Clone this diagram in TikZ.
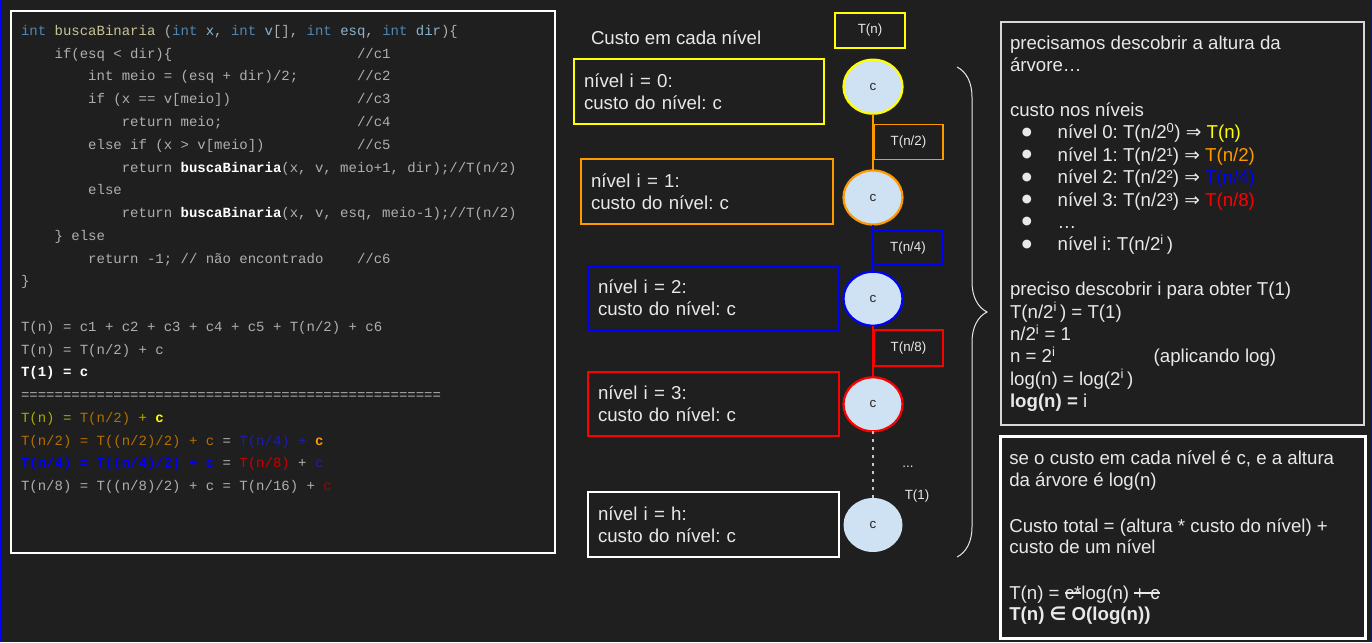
\documentclass[tikz,border=0pt]{standalone}
\usepackage{fontspec}
\setmainfont{Liberation Sans}
\setmonofont{Liberation Mono}
\newfontfamily\dejavu{DejaVu Sans}
\usetikzlibrary{shapes.geometric,decorations.pathreplacing}
\definecolor{bg}{RGB}{31,31,31}
\definecolor{txt}{RGB}{232,232,232}
\definecolor{codeg}{RGB}{175,175,175}
\definecolor{kw}{RGB}{80,135,180}
\definecolor{fn}{RGB}{200,196,150}
\definecolor{par}{RGB}{140,180,205}
\definecolor{yel}{RGB}{255,255,0}
\definecolor{org}{RGB}{255,153,0}
\definecolor{blu}{RGB}{0,0,255}
\definecolor{rd}{RGB}{255,0,0}
\definecolor{cfill}{RGB}{207,226,243}
\definecolor{cOlive}{RGB}{170,170,0}
\definecolor{cBrown}{RGB}{180,110,0}
\definecolor{cDBlue}{RGB}{30,30,170}
\definecolor{cDRed}{RGB}{200,0,0}
\definecolor{cDRedB}{RGB}{170,0,0}
\definecolor{boxg}{RGB}{215,215,215}
\definecolor{dotc}{RGB}{200,200,200}
\definecolor{edge}{RGB}{0,0,255}
\newcommand\codefont{\ttfamily\fontsize{14}{16}\selectfont}
\newcommand\bigfont{\fontsize{18.67}{21.8}\selectfont}
\newcommand\smfont{\fontsize{13.33}{15}\selectfont}
\newcommand\stk[1]{\setbox0=\hbox{#1}\rlap{\rule[0.3em]{\wd0}{0.07em}}\box0}
\frenchspacing
\begin{document}
\begin{tikzpicture}[x=1pt,y=-1pt,
  every node/.style={inner sep=0pt,outer sep=0pt},
  code/.style={font=\codefont,text=codeg,anchor=base west},
  say/.style={font=\bigfont,text=txt,anchor=base west},
  bul/.style={font=\dejavu\fontsize{11.5}{12}\selectfont,text=txt,anchor=center},
  lvbox/.style={draw,line width=1.3pt,font=\bigfont,text=txt,align=left,inner xsep=10pt,text width=231pt,minimum height=65pt},
  lbl/.style={draw,line width=1.3pt,font=\smfont,text=txt,minimum width=70pt,minimum height=35pt},
  circ/.style={ellipse,fill=cfill,line width=2.2pt,minimum width=59pt,minimum height=54pt,font=\smfont,text=black!85},
  conn/.style={line width=2pt},
  dotline/.style={draw=dotc,line width=2.2pt,dash pattern=on 2.2pt off 5.8pt},
  panel/.style={draw,line width=1.3pt}
]
\useasboundingbox (0,0) rectangle (1372,642);
\fill[bg] (0,0) rectangle (1372,642);
\draw[edge,line width=2pt] (0,0) -- (0,642);
\draw[edge,line width=2pt] (1372,0) -- (1372,642);

% ---------- code panel ----------
\node[panel,draw=white,minimum width=544pt,minimum height=542pt] (codebox) at (283,282) {};
\node[code] (k0) at (21,35.5) {\textcolor{kw}{int} \textcolor{fn}{buscaBinaria} (\textcolor{kw}{int} \textcolor{par}{x}, \textcolor{kw}{int} \textcolor{par}{v}[], \textcolor{kw}{int} \textcolor{par}{esq}, \textcolor{kw}{int} \textcolor{par}{dir})\{};
\node[code] (k1) at (54.6,58.25) {if(esq < dir)\{};
\node[code] (m1) at (357,58.25) {//c1};
\node[code] (k2) at (88.2,81) {int meio = (esq + dir)/2;};
\node[code] (m2) at (357,81) {//c2};
\node[code] (k3) at (88.2,103.75) {if (x == v[meio])};
\node[code] (m3) at (357,103.75) {//c3};
\node[code] (k4) at (121.8,126.5) {return meio;};
\node[code] (m4) at (357,126.5) {//c4};
\node[code] (k5) at (88.2,149.25) {else if (x > v[meio])};
\node[code] (m5) at (357,149.25) {//c5};
\node[code] (k6) at (121.8,172) {return \textcolor{white}{\bfseries buscaBinaria}(x, v, meio+1, dir);//T(n/2)};
\node[code] (k7) at (88.2,194.75) {else};
\node[code] (k8) at (121.8,217.5) {return \textcolor{white}{\bfseries buscaBinaria}(x, v, esq, meio-1);//T(n/2)};
\node[code] (k9) at (54.6,240.25) {\} else};
\node[code] (k10) at (88.2,263) {return -1; // não encontrado};
\node[code] (m6) at (357,263) {//c6};
\node[code] (k11) at (21,285.75) {\}};
\node[code] (k13) at (21,331.25) {T(n) = c1 + c2 + c3 + c4 + c5 + T(n/2) + c6};
\node[code] (k14) at (21,354) {T(n) = T(n/2) + c};
\node[code,text=white] (k15) at (21,376.75) {\bfseries T(1) = c};
\node[code] (k16) at (21,399.5) {==================================================};
\node[code] (k17) at (21,422.25) {\textcolor{cOlive}{T(n) =} \textcolor{cBrown}{T(n/2)} \textcolor{cOlive}{+} \textcolor{yel}{\bfseries c}};
\node[code] (k18) at (21,445) {\textcolor{cBrown}{T(n/2) = T((n/2)/2) + c} = \textcolor{cDBlue}{T(n/4) +} \textcolor{org}{\bfseries c}};
\node[code] (k19) at (21,467.75) {\textcolor{blu}{\bfseries T(n/4) = T((n/4)/2) + c} = \textcolor{cDRed}{T(n/8)} + \textcolor{cDBlue}{c}};
\node[code] (k20) at (21,490.5) {T(n/8) = T((n/8)/2) + c = T(n/16) + \textcolor{cDRedB}{c}};

% ---------- middle: levels ----------
\node[say] (title) at (591,44.5) {Custo em cada nível};
\node[lvbox,draw=yel,text width=230pt] (L0) at (699,91.5) {nível i = 0:\\custo do nível: c};
\node[lvbox,draw=org,text width=232pt] (L1) at (707,191.5) {nível i = 1:\\custo do nível: c};
\node[lvbox,draw=blu,minimum height=64pt] (L2) at (713.5,298) {nível i = 2:\\custo do nível: c};
\node[lvbox,draw=rd,minimum height=64pt] (L3) at (713.5,404) {nível i = 3:\\custo do nível: c};
\node[lvbox,draw=white] (Lh) at (713.5,524.5) {nível i = h:\\custo do nível: c};

\node[circ,draw=yel] (c0) at (873,86.7) {c};
\node[circ,draw=org] (c1) at (873,197.5) {c};
\node[circ,draw=blu] (c2) at (873,298.7) {c};
\node[circ,draw=rd] (c3) at (873,404.3) {c};
\node[circ] (c4) at (873,525) {c};

\draw[conn,org] (c0.south) -- (c1.north);
\draw[conn,blu] (c1.south) -- (c2.north);
\draw[conn,rd] (c2.south) -- (c3.north);
\draw[dotline] (c3.south) -- (c4.north);

\node[lbl,draw=yel] (tn) at (870,30.5) {T(n)};
\node[lbl,draw=org,minimum width=69pt] (t2) at (908.5,141.7) {T(n/2)};
\node[lbl,draw=blu,minimum height=34pt] (t4) at (908,248) {T(n/4)};
\node[lbl,draw=rd,minimum width=69pt,minimum height=36pt] (t8) at (908.5,348) {T(n/8)};
\node[font=\smfont,text=txt,anchor=base] (dd) at (908,467.5) {...};
\node[font=\smfont,text=txt] (t1) at (917,496) {T(1)};

\draw[txt,line width=1pt,decorate,decoration={brace,amplitude=30pt}] (957,67) -- (957,557);

% ---------- right panel A ----------
\node[panel,draw=boxg,minimum width=363pt,minimum height=403pt] (boxA) at (1182.5,223.5) {};
\node[say] (a1) at (1010,49.2) {precisamos descobrir a altura da};
\node[say] (a2) at (1010,71.6) {árvore…};
\node[say] (a3) at (1010,116.4) {custo nos níveis};
\node[bul] (b1) at (1027,132.3) {●};
\node[bul] (b2) at (1027,154.7) {●};
\node[bul] (b3) at (1027,177.1) {●};
\node[bul] (b4) at (1027,199.5) {●};
\node[bul] (b5) at (1027,221.9) {●};
\node[bul] (b6) at (1027,244.3) {●};
\node[say] (a4) at (1057.7,138.8) {nível 0: T(n/2\textsuperscript{0}) {\dejavu ⇒} \textcolor{yel}{T(n)}};
\node[say] (a5) at (1057.7,161.2) {nível 1: T(n/2¹) {\dejavu ⇒} \textcolor{org}{T(n/2)}};
\node[say] (a6) at (1057.7,183.6) {nível 2: T(n/2²) {\dejavu ⇒} \textcolor{blu}{T(n/4)}};
\node[say] (a7) at (1057.7,206) {nível 3: T(n/2³) {\dejavu ⇒} \textcolor{rd}{T(n/8)}};
\node[say] (a8) at (1057.7,228.4) {…};
\node[say] (a9) at (1057.7,250.8) {nível i: T(n/2\textsuperscript{i}\,)};
\node[say] (a10) at (1010,295.6) {preciso descobrir i para obter T(1)};
\node[say] (a11) at (1010,318) {T(n/2\textsuperscript{i}\,) = T(1)};
\node[say] (a12) at (1010,340.4) {n/2\textsuperscript{i} = 1};
\node[say] (a13) at (1010,362.8) {n = 2\textsuperscript{i}};
\node[say] (a14) at (1153.7,362.8) {(aplicando log)};
\node[say] (a15) at (1010,385.2) {log(n) = log(2\textsuperscript{i}\,)};
\node[say] (a16) at (1010,407.6) {\textbf{log(n) =} i};

% ---------- right panel B ----------
\node[panel,draw=white,line width=3pt,minimum width=365pt,minimum height=202pt] (boxB) at (1182.5,537) {};
\node[say] (s1) at (1009.3,464.8) {se o custo em cada nível é c, e a altura};
\node[say] (s2) at (1009.3,486.8) {da árvore é log(n)};
\node[say] (s3) at (1009.3,532.2) {Custo total = (altura * custo do nível) +};
\node[say] (s4) at (1009.3,553.6) {custo de um nível};
\node[say] (s5) at (1009.3,599.2) {T(n) = \stk{c*}log(n) \stk{+ c}};
\node[say] (s6) at (1009.3,620.8) {\textbf{T(n) {\dejavu\bfseries ∈} O(log(n))}};
\end{tikzpicture}
\end{document}
